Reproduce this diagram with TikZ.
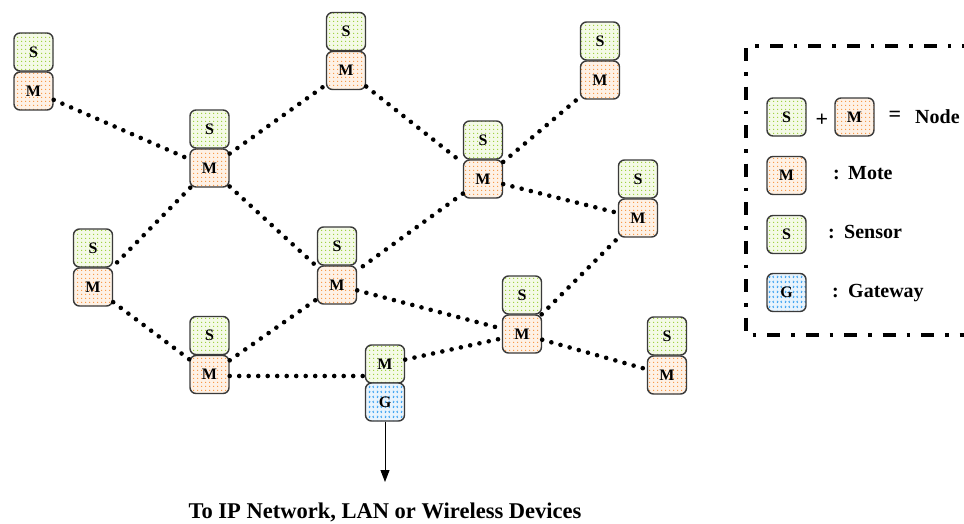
\documentclass[tikz,border=0pt]{standalone}
\usepackage{fontspec}
\setmainfont{Liberation Serif}
\usetikzlibrary{patterns,arrows.meta}

\definecolor{sensordot}{HTML}{9ACD32}
\definecolor{motedot}{HTML}{F7933A}
\definecolor{gatedot}{HTML}{2E9BEF}
\definecolor{sensortint}{HTML}{F4FAE6}
\definecolor{motetint}{HTML}{FEF1E5}
\definecolor{gatetint}{HTML}{E9F4FD}
\definecolor{boxline}{HTML}{3A3A3A}

% coloured dot fills for the unit boxes
\pgfdeclarepatterninherentlycolored{sensordots}
  {\pgfpointorigin}{\pgfpoint{4pt}{4pt}}{\pgfpoint{4pt}{4pt}}
  {\pgfsetcolor{sensordot}\pgfpathcircle{\pgfpoint{2pt}{2pt}}{0.75pt}\pgfusepath{fill}}
\pgfdeclarepatterninherentlycolored{motedots}
  {\pgfpointorigin}{\pgfpoint{4pt}{4pt}}{\pgfpoint{4pt}{4pt}}
  {\pgfsetcolor{motedot}\pgfpathcircle{\pgfpoint{2pt}{2pt}}{0.75pt}\pgfusepath{fill}}
\pgfdeclarepatterninherentlycolored{gatechevrons}
  {\pgfpointorigin}{\pgfpoint{8pt}{5pt}}{\pgfpoint{8pt}{5pt}}
  {\pgfsetcolor{gatedot}\pgfsetlinewidth{0.7pt}
   \pgfpathmoveto{\pgfpoint{1pt}{1.3pt}}\pgfpathlineto{\pgfpoint{2.4pt}{2.5pt}}\pgfpathlineto{\pgfpoint{1pt}{3.7pt}}
   \pgfpathmoveto{\pgfpoint{6.6pt}{1.3pt}}\pgfpathlineto{\pgfpoint{5.2pt}{2.5pt}}\pgfpathlineto{\pgfpoint{6.6pt}{3.7pt}}
   \pgfusepath{stroke}}

\tikzset{
  unit/.style={draw=boxline, line width=1.4pt, rounded corners=6pt,
    minimum width=39pt, minimum height=38pt, inner sep=0pt,
    font=\fontsize{16}{16}\selectfont\bfseries},
  sensor/.style={unit, preaction={fill=sensortint}, pattern=sensordots},
  mote/.style={unit, preaction={fill=motetint}, pattern=motedots},
  gateway/.style={unit, preaction={fill=gatetint}, pattern=gatechevrons},
  link/.style={black, line width=4.6pt, line cap=round, dash pattern=on 0pt off 9.5pt},
  legendtext/.style={font=\fontsize{20}{20}\selectfont\bfseries, inner sep=0pt, anchor=base west},
  legendframe/.style={line width=4pt, dash pattern=on 13pt off 11pt on 3.5pt off 11pt}
}

\begin{document}
\begin{tikzpicture}[x=1pt, y=-1pt]
\useasboundingbox (0,0) rectangle (964,523);

% sensor/mote pairs (mote below, sensor on top)
\node[mote]   (m1)  at (33.5,91)  {M};  \node[sensor] (s1)  at (33.5,52)  {S};
\node[mote]   (m2)  at (209.5,168){M};  \node[sensor] (s2)  at (209.5,129){S};
\node[mote]   (m3)  at (346,70.5) {M};  \node[sensor] (s3)  at (346,31.5) {S};
\node[mote]   (m4)  at (600,80)   {M};  \node[sensor] (s4)  at (600,41)   {S};
\node[mote]   (m5)  at (483,179)  {M};  \node[sensor] (s5)  at (483,140)  {S};
\node[mote]   (m6)  at (638,218)  {M};  \node[sensor] (s6)  at (638,179)  {S};
\node[mote]   (m7)  at (93,287)   {M};  \node[sensor] (s7)  at (93,248)   {S};
\node[mote]   (m8)  at (337,285)  {M};  \node[sensor] (s8)  at (337,246)  {S};
\node[mote]   (m9)  at (209.5,374.5){M};\node[sensor] (s9)  at (209.5,335.5){S};
\node[mote]   (m11) at (522,334)  {M};  \node[sensor] (s11) at (522,295)  {S};
\node[mote]   (m12) at (667,375)  {M};  \node[sensor] (s12) at (667,336)  {S};

% gateway unit
\node[sensor]  (mg) at (385,364) {M};
\node[gateway] (g)  at (385,402) {G};

% radio links
\foreach \a/\b in {m1/m2, m2/m3, m2/m8, m2/m7, m3/m5, m5/m4, m5/m6, m5/m8,
                   m7/m9, m9/m8, mg/m11, m8/m11, m11/m6, m11/m12}
  \draw[link] (\a) -- (\b);
\coordinate (m9out) at ([yshift=-1.5pt]m9.east);
\draw[link] (m9out) -- (m9out -| mg.west);

% uplink from the gateway
\coordinate (tip) at (385,482);
\draw[line width=1pt, -{Triangle[width=9pt,length=12pt]}] (g) -- (tip);
\node[font=\fontsize{22.5}{22.5}\selectfont\bfseries, anchor=base, inner sep=0pt]
  (caption) at (385,518) {To IP Network, LAN or Wireless Devices};

% legend
\draw[legendframe] (975,46) -- (746,46) -- (746,335) -- (975,335);

\node[sensor] (ls1) at (786.5,117) {S};
\node[font=\fontsize{22}{22}\selectfont\bfseries, inner sep=0pt] (plus) at (822,120) {+};
\node[mote] (lm1) at (854.5,117) {M};
\node[font=\fontsize{22}{22}\selectfont\bfseries, inner sep=0pt] (eq) at (895,116) {=};
\node[legendtext] (lnode) at (915,123) {Node};

\node[mote] (lm) at (786.5,175.5) {M};
\node[legendtext] (lmc) at (833,179) {:};
\node[legendtext] (lmt) at (848,179) {Mote};

\node[sensor] (ls) at (786.5,234.5) {S};
\node[legendtext] (lsc) at (828,238) {:};
\node[legendtext] (lst) at (844,238) {Sensor};

\node[gateway] (lg) at (786.5,292.5) {G};
\node[legendtext] (lgc) at (832,297) {:};
\node[legendtext] (lgt) at (848,297) {Gateway};
\end{tikzpicture}
\end{document}
